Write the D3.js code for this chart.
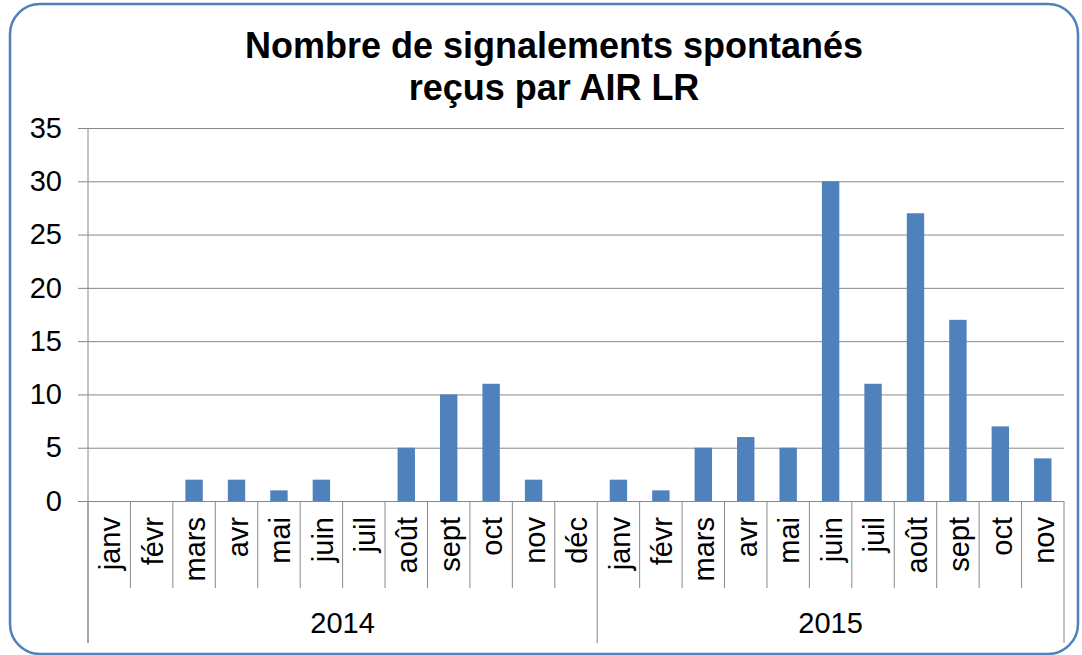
<!DOCTYPE html>
<html>
<head>
<meta charset="utf-8">
<script src="https://cdn.jsdelivr.net/npm/d3@7"></script>
<style>
  body { margin: 0; background: #fff; }
  svg { display: block; font-family: "Liberation Sans", Arial, sans-serif; }
</style>
</head>
<body>
<div id="chart"></div>
<script>
const months2014 = ['janv', 'févr', 'mars', 'avr', 'mai', 'juin', 'juil', 'août', 'sept', 'oct', 'nov', 'déc'];
const months2015 = ['janv', 'févr', 'mars', 'avr', 'mai', 'juin', 'juil', 'août', 'sept', 'oct', 'nov'];
const values2014 = [0, 0, 2, 2, 1, 2, 0, 5, 10, 11, 2, 0];
const values2015 = [2, 1, 5, 6, 5, 30, 11, 27, 17, 7, 4];
const years = ['2014', '2015'];
const yTicks = [0, 5, 10, 15, 20, 25, 30, 35];
const titleLines = ['Nombre de signalements spontanés', 'reçus par AIR LR'];

const barColor = '#4F81BD';
const gridColor = '#888888';

const rows = [
    ...months2014.map((m, i) => ({ year: years[0], month: m, value: values2014[i] })),
    ...months2015.map((m, i) => ({ year: years[1], month: m, value: values2015[i] }))
];
rows.forEach((r, i) => { r.idx = i; });

const W = 1082, H = 655;
const plotLeft = 88, plotRight = 1064, plotTop = 128, plotBottom = 501;

const svg = d3.select('#chart').append('svg')
    .attr('width', W)
    .attr('height', H);

// rounded frame
svg.append('rect')
    .attr('x', 10).attr('y', 4)
    .attr('width', 1068).attr('height', 650)
    .attr('rx', 30).attr('ry', 30)
    .style('fill', '#fff')
    .style('stroke', barColor)
    .style('stroke-width', 2.5);

// title
svg.append('g')
    .selectAll('text')
    .data(titleLines)
    .join('text')
    .attr('x', 554)
    .attr('y', (d, i) => 58 + i * 42)
    .style('text-anchor', 'middle')
    .style('font-weight', 'bold')
    .style('font-size', '36px')
    .style('fill', '#000')
    .text(d => d);

const x = d3.scaleBand()
    .domain(rows.map(r => r.idx))
    .range([plotLeft, plotRight])
    .padding(0);

const y = d3.scaleLinear()
    .domain([0, 35])
    .range([plotBottom, plotTop]);

// y axis with grid lines
const yAxis = svg.append('g')
    .attr('transform', `translate(${plotLeft}, 0)`)
    .call(d3.axisLeft(y)
        .tickValues(yTicks)
        .tickSize(10)
        .tickPadding(16));
yAxis.select('.domain').remove();
yAxis.selectAll('.tick line')
    .attr('x2', plotRight - plotLeft)
    .attr('x1', -10)
    .style('stroke', gridColor);
yAxis.selectAll('.tick text')
    .style('font-size', '29px')
    .style('fill', '#000')
    .style('font-family', '"Liberation Sans", Arial, sans-serif');

// bars
const barW = x.bandwidth() * 0.41;
svg.append('g')
    .selectAll('rect')
    .data(rows)
    .join('rect')
    .attr('x', d => x(d.idx) + (x.bandwidth() - barW) / 2)
    .attr('y', d => y(d.value))
    .attr('width', barW)
    .attr('height', d => plotBottom - y(d.value))
    .style('fill', barColor);

// category axis lines
const catAxis = svg.append('g');
catAxis.append('line')
    .attr('x1', plotLeft).attr('x2', plotLeft)
    .attr('y1', plotTop).attr('y2', 643)
    .style('stroke', gridColor);

const boundaries = d3.range(rows.length + 1);
catAxis.selectAll('line.sep')
    .data(boundaries)
    .join('line')
    .classed('sep', true)
    .attr('x1', i => i < rows.length ? x(i) : plotRight)
    .attr('x2', i => i < rows.length ? x(i) : plotRight)
    .attr('y1', plotBottom)
    .attr('y2', i => (i === 0 || i === months2014.length || i === rows.length) ? 643 : 588)
    .style('stroke', gridColor);

catAxis.selectAll('text.month')
    .data(rows)
    .join('text')
    .classed('month', true)
    .attr('transform', d => `translate(${x(d.idx) + x.bandwidth() / 2 + 1}, 517) rotate(-90)`)
    .attr('dy', '0.35em')
    .style('text-anchor', 'end')
    .style('font-size', '29px')
    .style('fill', '#000')
    .text(d => d.month);

catAxis.selectAll('text.year')
    .data(years)
    .join('text')
    .classed('year', true)
    .attr('x', yr => {
        const idx = rows.filter(r => r.year === yr).map(r => r.idx);
        return (x(d3.min(idx)) + x(d3.max(idx)) + x.bandwidth()) / 2;
    })
    .attr('y', 633)
    .style('text-anchor', 'middle')
    .style('font-size', '29px')
    .style('fill', '#000')
    .text(yr => yr);
</script>
</body>
</html>
